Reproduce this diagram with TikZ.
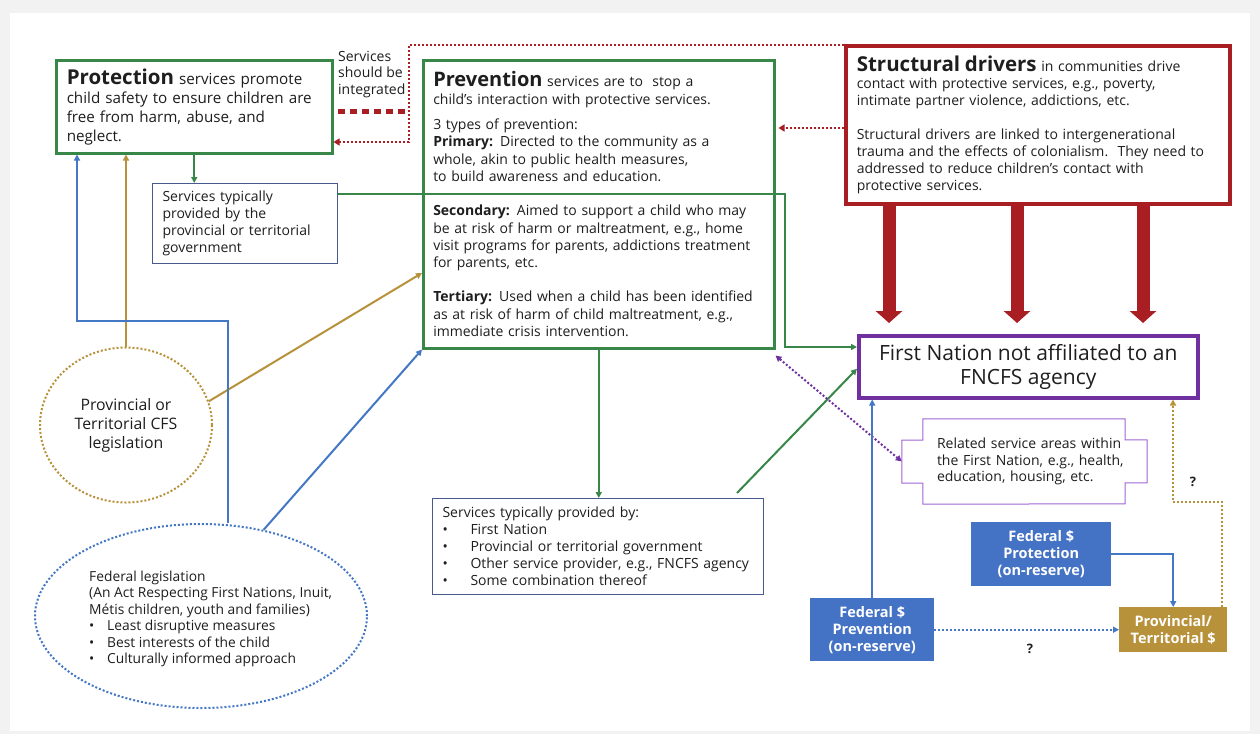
\documentclass[tikz,border=0pt]{standalone}
\usepackage{fontspec}
\setmainfont{Open Sans}
\usetikzlibrary{arrows.meta,calc,shapes.geometric}
\definecolor{pgreen}{RGB}{56,134,72}
\definecolor{pred}{RGB}{168,30,34}
\definecolor{ppurple}{RGB}{112,48,160}
\definecolor{plpurple}{RGB}{160,100,210}
\definecolor{pblue}{RGB}{68,119,196}
\definecolor{pfill}{RGB}{68,114,196}
\definecolor{pgold}{RGB}{184,146,59}
\definecolor{pedge}{RGB}{70,90,140}
\definecolor{pbg}{RGB}{242,242,242}
\definecolor{ptext}{RGB}{30,30,30}
\tikzset{
  box/.style={rectangle, anchor=north west, align=left, inner ysep=0pt, text=ptext},
  ga/.style={draw=pgreen, line width=2pt, -{Triangle[length=6pt,width=6pt]}},
  ba/.style={draw=pblue, line width=2pt, -{Triangle[length=6pt,width=6pt]}},
  goa/.style={draw=pgold, line width=2pt, -{Triangle[length=6pt,width=6pt]}},
  dotline/.style={dash pattern=on 2pt off 2pt},
  bigarrow/.style={draw=pred, line width=13pt, -{Triangle[length=12pt,width=26pt]}},
  money/.style={rectangle, fill=pfill, text=white, font=\fontsize{14.5}{17}\selectfont\bfseries, align=center, inner sep=0pt},
}
\begin{document}
\begin{tikzpicture}[x=1pt,y=-1pt]
\useasboundingbox (0,0) rectangle (1260,734);
\fill[pbg] (0,0) rectangle (1260,734);
\fill[white] (10,13) rectangle (1250,731);

% Protection
\node[box, draw=pgreen, line width=2.5pt, minimum width=276pt, minimum height=93pt,
  text width=255pt, inner xsep=10.5pt, font=\fontsize{15.2}{19}\selectfont] (prot) at (55,59)
  {{\fontsize{20.5}{19}\selectfont\bfseries Protection} services promote\\child safety to ensure children are\\free from harm, abuse, and\\neglect.};

\node[box, inner sep=0pt, font=\fontsize{14}{16.5}\selectfont] (integ) at (338,51) {Services\\should be\\integrated};
\draw[pred, line width=5pt, dash pattern=on 7pt off 5pt] (integ.south west |- 0,111) -- ++(67,0);

% Prevention
\node[box, draw=pgreen, line width=2.5pt, minimum width=351pt, minimum height=288pt,
  text width=331pt, inner xsep=10pt, font=\fontsize{14}{17.3}\selectfont] (prev) at (422,59)
  {{\fontsize{20}{20}\selectfont\bfseries Prevention} services are to\ \ stop a\\
   child’s interaction with protective services.\\[8pt]
   3 types of prevention:\\
   \textbf{Primary:} Directed to the community as a\\
   whole, akin to public health measures,\\
   to build awareness and education.\\[17pt]
   \textbf{Secondary:} Aimed to support a child who may\\
   be at risk of harm or maltreatment, e.g., home\\
   visit programs for parents, addictions treatment\\
   for parents, etc.\\[17pt]
   \textbf{Tertiary:} Used when a child has been identified\\
   as at risk of harm of child maltreatment, e.g.,\\
   immediate crisis intervention.};

% Structural drivers
\node[box, draw=pred, line width=3.5pt, minimum width=384pt, minimum height=158pt,
  text width=362pt, inner xsep=11pt, font=\fontsize{14}{17}\selectfont] (sd) at (844,44)
  {{\fontsize{20.5}{20}\selectfont\bfseries Structural drivers} in communities drive\\
   contact with protective services, e.g., poverty,\\
   intimate partner violence, addictions, etc.\\[17pt]
   Structural drivers are linked to intergenerational\\
   trauma and the effects of colonialism.\ \ They need to\\
   addressed to reduce children’s contact with\\
   protective services.};

% Services provincial
\node[box, draw=pedge, line width=1pt, minimum width=185pt, minimum height=80pt,
  text width=165pt, inner xsep=10pt, font=\fontsize{14}{17}\selectfont] (sprov) at (152,183)
  {Services typically\\provided by the\\provincial or territorial\\government};

% Services by
\node[box, draw=pedge, line width=1pt, minimum width=331pt, minimum height=96pt,
  text width=311pt, inner xsep=10pt, font=\fontsize{14}{17}\selectfont] (sby) at (432,498)
  {Services typically provided by:\\
   \makebox[28pt][l]{\textbullet}First Nation\\
   \makebox[28pt][l]{\textbullet}Provincial or territorial government\\
   \makebox[28pt][l]{\textbullet}Other service provider, e.g., FNCFS agency\\
   \makebox[28pt][l]{\textbullet}Some combination thereof};

% First Nation
\node[rectangle, draw=ppurple, line width=3.5pt, minimum width=339pt, minimum height=62pt,
  anchor=north west, align=center, text=ptext, font=\fontsize{21}{24}\selectfont] (fn) at (857,334)
  {First Nation not affiliated to an\\FNCFS agency};

% Related
\node[rectangle, minimum width=245pt, minimum height=85pt, text width=175pt, inner sep=0pt,
  align=left, text=ptext, font=\fontsize{14}{16.5}\selectfont] (rel) at (1024.5,461.5)
  {\mbox{Related service areas within}\\\mbox{the First Nation, e.g., health,}\\\mbox{education, housing, etc.}};
\draw[plpurple, line width=1pt] ($(rel.north west)+(21,0)$) -- ($(rel.north east)+(-22,0)$)
  -- ++(0,21) -- ++(22,0) -- ++(0,43) -- ++(-22,0) -- ++(0,21)
  -- ($(rel.south west)+(21,0)$) -- ++(0,-21) -- ++(-21,0) -- ++(0,-43) -- ++(21,0) -- cycle;

% Money boxes
\node[money, minimum width=140pt, minimum height=64pt, anchor=north west] (fprot) at (971,522)
  {Federal \$\\Protection\\(on-reserve)};
\node[money, minimum width=124pt, minimum height=63pt, anchor=north west] (fprev) at (810,598)
  {Federal \$\\Prevention\\(on-reserve)};
\node[money, fill=pgold, minimum width=108pt, minimum height=45pt, anchor=north west] (prov) at (1119,607)
  {Provincial/\\Territorial \$};

% Legislation ellipses
\node[ellipse, draw=pgold, line width=2pt, dotline, minimum width=172pt, minimum height=155pt,
  inner sep=0pt, align=center, text=ptext, font=\fontsize{15.8}{19}\selectfont] (pcfs) at (126,425)
  {Provincial or\\Territorial CFS\\legislation};
\node[ellipse, draw=pblue, line width=2pt, dotline, minimum width=332pt, minimum height=184pt,
  inner sep=0pt] (fed) at (201,616) {};
\node[align=left, inner sep=0pt, text=ptext, font=\fontsize{13.8}{16.5}\selectfont, anchor=west] (fedtxt) at (89,619)
  {Federal legislation\\
   (An Act Respecting First Nations, Inuit,\\
   Métis children, youth and families)\\
   \makebox[18pt][l]{\textbullet}Least disruptive measures\\
   \makebox[18pt][l]{\textbullet}Best interests of the child\\
   \makebox[18pt][l]{\textbullet}Culturally informed approach};

% question marks
\node[font=\fontsize{13}{13}\selectfont\bfseries, text=ptext] (q1) at (1193,482) {?};
\node[font=\fontsize{13}{13}\selectfont\bfseries, text=ptext] (q2) at (1030,649) {?};

% coordinates
\coordinate (r1) at (409,45);
\coordinate (r2) at (409,142);
\coordinate (r3) at (842,128);
\coordinate (g1) at (785,194);
\coordinate (g2) at (785,347);
\coordinate (b1) at (228,321);
\coordinate (b2) at (77,321);
\coordinate (gA) at (0,273);
\coordinate (y1) at (1222,502);
\coordinate (y2) at (1173,502);
\coordinate (t1) at (889,323);
\coordinate (t2) at (1017,323);
\coordinate (t3) at (1143,323);

% connectors
\draw[ga] (prot.south) -- (prot.south |- sprov.north);
\draw[ga] (g1 -| sprov.east) -- (g1) -- (g2) -- (g2 -| fn.west);
\draw[ga] (prev.south) -- (prev.south |- sby.north);
\draw[ga] ($(sby.north east)+(-27,-5)$) -- ($(fn.west)+(0,2)$);

\draw[pred, line width=2.5pt, dotline, -{Triangle[length=6pt,width=7pt]}] (r1 -| sd.west) -- (r1) -- (r2) -- (r2 -| prot.east);
\draw[pred, line width=2.5pt, dotline, -{Triangle[length=6pt,width=7pt]}, shorten >=3pt] (r3 -| sd.west) -- (r3 -| prev.east);

\draw[bigarrow] (sd.south -| t1) -- (t1);
\draw[bigarrow] (sd.south -| t2) -- (t2);
\draw[bigarrow] (sd.south -| t3) -- (t3);

\draw[ppurple, line width=2pt, dotline, {Triangle[length=6pt,width=6pt]}-{Triangle[length=6pt,width=6pt]}] ($(prev.south east)+(0,6)$) -- (rel.west);

\draw[ba] (fprev.north) -- (fprev.north |- fn.south);
\draw[ba] (fprot.east) -| (prov.north);
\draw[ba, dotline] (fprev.east) -- (prov.west);
\draw[goa, dotline] (y1 |- prov.north) -- (y1) -- (y2) -- (y2 |- fn.south);

\draw[goa] (pcfs.north) -- (pcfs.north |- prot.south);
\draw[goa] (pcfs.16) -- (prev.west |- gA);
\draw[ba] (fed.north -| b1) -- (b1) -- (b2) -- (b2 |- prot.south);
\draw[ba] (fed.54) -- (prev.south west);
\end{tikzpicture}
\end{document}
